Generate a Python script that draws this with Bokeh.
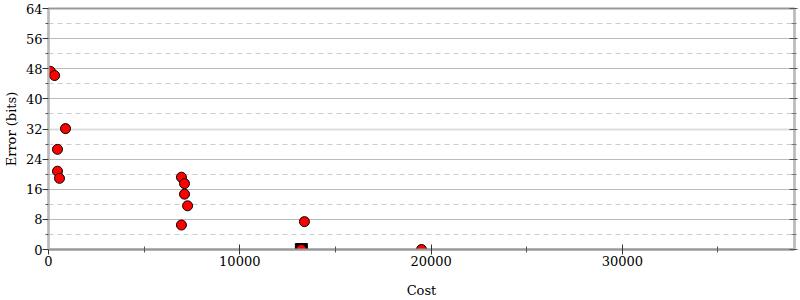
from bokeh.plotting import figure
from bokeh.models import Range1d, FixedTicker, LinearAxis, Grid
from bokeh.embed import file_html
from bokeh.resources import INLINE

cost = [100, 320, 890, 470, 470, 575, 6950, 7110, 7110, 7270, 6950, 13380, 13220, 19500]
error = [47.3, 46.2, 32.1, 26.6, 20.8, 18.9, 19.2, 17.5, 14.7, 11.6, 6.5, 7.4, 0.0, 0.0]
best_cost = [13220]
best_error = [0.0]

y_major = [0, 8, 16, 24, 32, 40, 48, 56, 64]
y_minor = [4, 12, 20, 28, 36, 44, 52, 60]
x_major = [0, 10000, 20000, 30000]
x_minor = [5000, 15000, 25000, 35000]
y_light = [32]

FONT = "DejaVu Serif"

p = figure(width=800, height=300, output_backend="svg", toolbar_location=None,
           x_range=Range1d(0, 39000), y_range=Range1d(0, 64),
           min_border_left=48, min_border_right=6, min_border_top=8, min_border_bottom=50,
           x_axis_label="Cost", y_axis_label="Error (bits)")
p.outline_line_color = "#999999"
p.outline_line_width = 2

p.xaxis.ticker = FixedTicker(ticks=x_major, minor_ticks=x_minor)
p.yaxis.ticker = FixedTicker(ticks=y_major, minor_ticks=y_minor)
p.xgrid.visible = False
p.ygrid.ticker = FixedTicker(ticks=[t for t in y_major if t not in y_light], minor_ticks=y_minor)
p.ygrid.grid_line_color = "#bbbbbb"
p.ygrid.grid_line_width = 1
p.ygrid.minor_grid_line_color = "#cccccc"
p.ygrid.minor_grid_line_dash = "5 4"

light_grid = Grid(dimension=1, ticker=FixedTicker(ticks=y_light))
light_grid.grid_line_color = "#dddddd"
light_grid.grid_line_width = 2
p.add_layout(light_grid)

for ax in (p.xaxis[0], p.yaxis[0]):
    ax.major_label_text_font = FONT
    ax.major_label_text_font_size = "13px"
    ax.major_label_text_color = "black"
    ax.axis_label_text_font = FONT
    ax.axis_label_text_font_size = "13px"
    ax.axis_label_text_font_style = "normal"
    ax.axis_label_text_color = "black"
    ax.major_tick_line_color = "#333333"
    ax.minor_tick_line_color = "#555555"

p.xaxis.axis_line_color = "#999999"
p.xaxis.axis_line_width = 2
p.xaxis.major_tick_in = 5
p.xaxis.major_tick_out = 5
p.xaxis.minor_tick_in = 3
p.xaxis.minor_tick_out = 3
p.xaxis.major_label_standoff = 1
p.xaxis.axis_label_standoff = 14

p.yaxis.axis_line_color = "#bbbbbb"
p.yaxis.axis_line_width = 2
p.yaxis.major_tick_in = 0
p.yaxis.major_tick_out = 6
p.yaxis.minor_tick_in = 0
p.yaxis.minor_tick_out = 3
p.yaxis.major_label_standoff = 0
p.yaxis.axis_label_standoff = 4

r_ax = LinearAxis(ticker=FixedTicker(ticks=y_major, minor_ticks=y_minor))
r_ax.major_label_overrides = {t: "" for t in y_major}
r_ax.axis_line_color = "#bbbbbb"
r_ax.axis_line_width = 2
r_ax.major_tick_in = 5
r_ax.major_tick_out = 3
r_ax.minor_tick_in = 3
r_ax.minor_tick_out = 2
r_ax.major_tick_line_color = "#555555"
r_ax.minor_tick_line_color = "#777777"
r_ax.major_label_standoff = 0
p.add_layout(r_ax, "right")

p.scatter(best_cost, best_error, marker="square", size=12, fill_color="black", line_color="black")
p.scatter(cost, error, marker="circle", size=10, fill_color="#ff0000", line_color="black", line_width=1)

open("out.html", "w").write(file_html(p, INLINE))
